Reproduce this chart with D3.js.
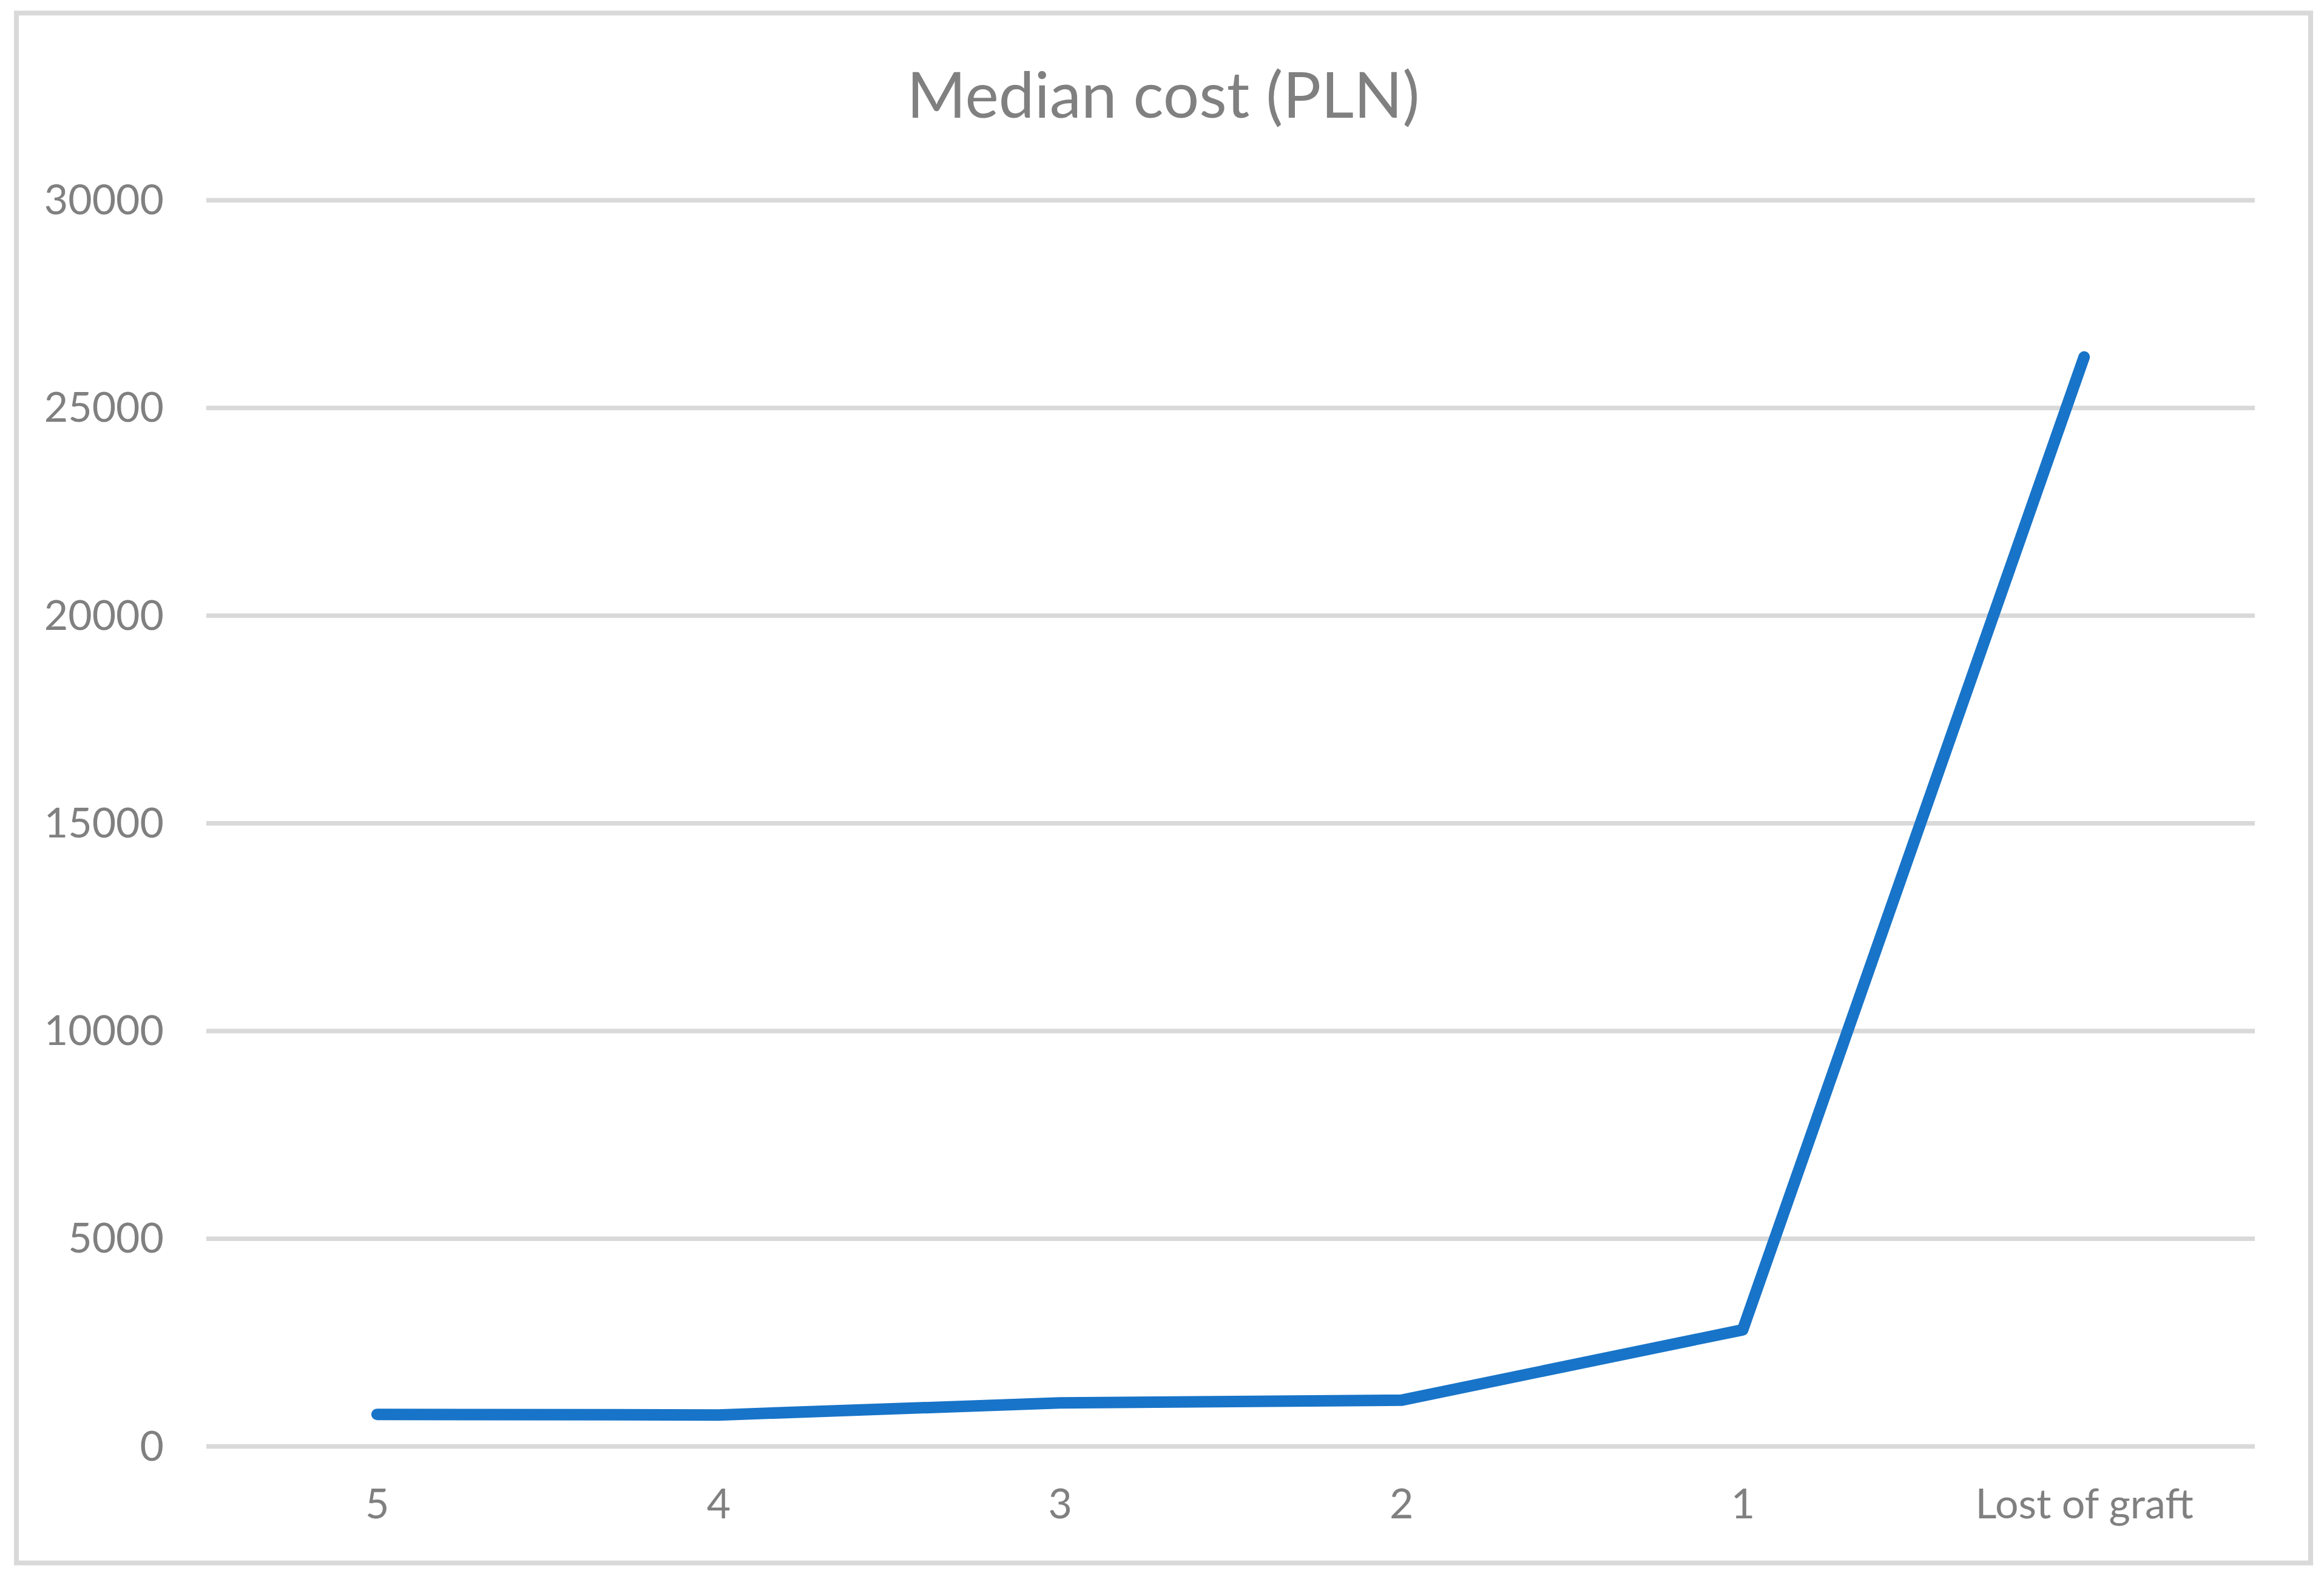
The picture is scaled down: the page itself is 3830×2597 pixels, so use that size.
<!DOCTYPE html>
<html>
<head>
<meta charset="utf-8">
<script src="https://cdn.jsdelivr.net/npm/d3@7"></script>
<style>
  body { margin: 0; background: #fff; }
  text { font-family: Lato, "Open Sans", sans-serif; fill: #808080; }
</style>
</head>
<body>
<div class="chart"></div>
<script>
const categories = ["5", "4", "3", "2", "1", "Lost of graft"];
const medianCost = [765, 750, 1040, 1105, 2800, 26220];
const yTicks = [0, 5000, 10000, 15000, 20000, 25000, 30000];

const size = { width: 3830, height: 2597 };
const plot = { left: 340, right: 3716, top: 329.5, bottom: 2383 };

const svg = d3
  .select(".chart")
  .append("svg")
  .attr("width", size.width)
  .attr("height", size.height);

// outer frame
svg
  .append("rect")
  .attr("x", 27)
  .attr("y", 21.5)
  .attr("width", 3781)
  .attr("height", 2554)
  .attr("fill", "#fff")
  .attr("stroke", "#d9d9d9")
  .attr("stroke-width", 8);

const x = d3
  .scalePoint()
  .domain(categories)
  .range([plot.left, plot.right])
  .padding(0.5);

const y = d3
  .scaleLinear()
  .domain([0, 30000])
  .range([plot.bottom, plot.top]);

// title
svg
  .append("text")
  .attr("x", 1917)
  .attr("y", 194)
  .attr("text-anchor", "middle")
  .attr("font-size", 105)
  .text("Median cost (PLN)");

// y axis with gridlines
const yAxis = svg
  .append("g")
  .attr("transform", `translate(${plot.left},0)`)
  .call(
    d3
      .axisLeft(y)
      .tickValues(yTicks)
      .tickSize(-(plot.right - plot.left))
      .tickPadding(70)
      .tickFormat(d3.format("d"))
  );
yAxis.select(".domain").remove();
yAxis
  .selectAll(".tick line")
  .attr("stroke", "#d9d9d9")
  .attr("stroke-width", 7.5);
yAxis
  .selectAll(".tick text")
  .attr("font-size", 68)
  .attr("dy", "0.34em")
  .attr("fill", "#808080");

// x axis labels
const xAxis = svg
  .append("g")
  .attr("transform", `translate(0,${plot.bottom})`)
  .call(d3.axisBottom(x).tickSize(0).tickPadding(0));
xAxis.select(".domain").remove();
xAxis
  .selectAll(".tick text")
  .attr("font-size", 68)
  .attr("dy", 0)
  .attr("y", 119)
  .attr("fill", "#808080");

// line
const line = d3
  .line()
  .x((d, i) => x(categories[i]))
  .y((d) => y(d));

svg
  .append("path")
  .datum(medianCost)
  .attr("d", line)
  .attr("fill", "none")
  .attr("stroke", "#1874c8")
  .attr("stroke-width", 19)
  .attr("stroke-linecap", "round")
  .attr("stroke-linejoin", "round");
</script>
</body>
</html>
